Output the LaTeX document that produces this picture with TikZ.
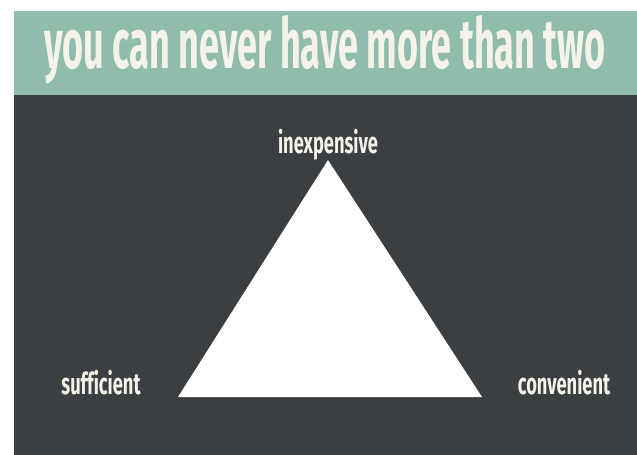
\documentclass[tikz,border=0pt]{standalone}
\usepackage{fontspec}
\newfontfamily\narrowfont{Fira Sans}[FakeStretch=0.515]
\newfontfamily\labelfont{Fira Sans}[FakeStretch=0.61, Ligatures=CommonOff]
\definecolor{sage}{HTML}{8FBCAB}
\definecolor{slate}{HTML}{3C3F42}
\definecolor{chalk}{HTML}{F5F2EA}
\begin{document}
\begin{tikzpicture}[x=1pt, y=-1pt, every node/.style={text=chalk, inner sep=0pt, anchor=base},
    corner/.style={font=\labelfont\bfseries\fontsize{30}{30}\selectfont}]
            \useasboundingbox (0, 0) rectangle (637, 455);
            % Panels
            \fill[white] (0, 0) rectangle (637, 455);
            \fill[sage] (14, 11) rectangle (637, 95);
            \fill[slate] (14, 95) rectangle (637, 455);

            % Corners
            \coordinate (top) at (328, 160);
            \coordinate (left) at (178, 397);
            \coordinate (right) at (482, 397);

            % Nodes
            \node[font=\narrowfont\bfseries\fontsize{70}{70}\selectfont] (title) at (325, 68) {you can never have more than two};
            \node[corner] (inexpensive) at (328, 153) {inexpensive};
            \node[corner] (sufficient) at (101, 394) {sufficient};
            \node[corner] (convenient) at (564, 394) {convenient};

            % Triangle
            \fill[white] (top) -- (left) -- (right) -- cycle;
        \end{tikzpicture}
\end{document}
